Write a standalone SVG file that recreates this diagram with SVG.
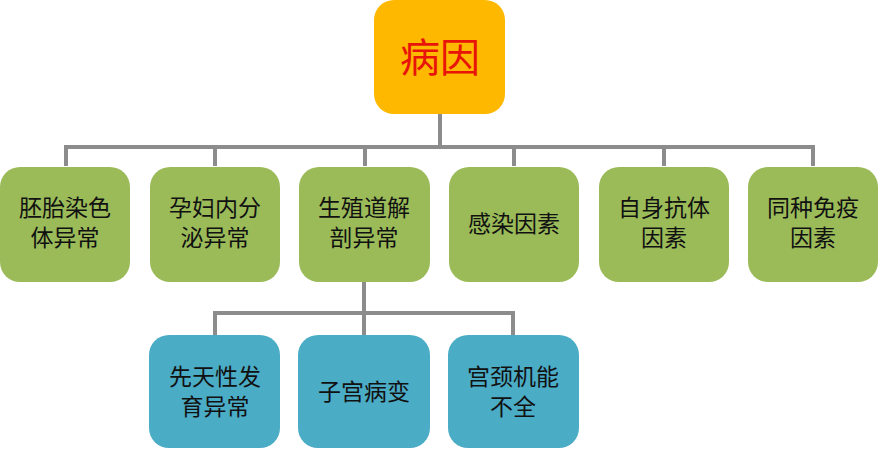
<svg xmlns="http://www.w3.org/2000/svg" width="879" height="450" viewBox="0 0 879 450">
<style>
.c{fill:none;stroke:#8c8c8c;stroke-width:4}
.g{fill:#9bbb59}
.b{fill:#4bacc6}
.t{font-family:"Noto Sans CJK SC","Noto Sans",sans-serif;font-size:23px;fill:#111;text-anchor:middle}
.top{font-family:"Noto Sans CJK SC","Noto Sans",sans-serif;font-size:40px;fill:#e8140a;text-anchor:middle}
</style>
<rect width="879" height="450" fill="#fff"/>
<g id="connectors">
<path class="c" d="M440 113V147M66 166V147H813V166M215 147V166M365 147V166M514 147V166M664 147V166"/>
<path class="c" d="M364 281V313M215 335V313H513V335M364 313V335"/>
</g>
<g id="root"><rect x="374" y="0" width="131" height="114" rx="20" fill="#ffb800"/><text class="top" x="440" y="72">病因</text></g>
<g id="n1"><rect class="g" x="0" y="167" width="130" height="115" rx="20"/><text class="t" x="65" y="216">胚胎染色<tspan x="65" dy="30">体异常</tspan></text></g>
<g id="n2"><rect class="g" x="150" y="167" width="130" height="115" rx="20"/><text class="t" x="215" y="216">孕妇内分<tspan x="215" dy="30">泌异常</tspan></text></g>
<g id="n3"><rect class="g" x="299" y="167" width="131" height="115" rx="20"/><text class="t" x="364" y="216">生殖道解<tspan x="364" dy="30">剖异常</tspan></text></g>
<g id="n4"><rect class="g" x="449" y="167" width="130" height="115" rx="20"/><text class="t" x="514" y="232">感染因素</text></g>
<g id="n5"><rect class="g" x="599" y="167" width="130" height="115" rx="20"/><text class="t" x="664" y="216">自身抗体<tspan x="664" dy="30">因素</tspan></text></g>
<g id="n6"><rect class="g" x="748" y="167" width="130" height="115" rx="20"/><text class="t" x="813" y="216">同种免疫<tspan x="813" dy="30">因素</tspan></text></g>
<g id="m1"><rect class="b" x="149" y="335" width="131" height="113" rx="20"/><text class="t" x="215" y="385">先天性发<tspan x="215" dy="30">育异常</tspan></text></g>
<g id="m2"><rect class="b" x="298" y="335" width="132" height="113" rx="20"/><text class="t" x="364" y="400">子宫病变</text></g>
<g id="m3"><rect class="b" x="448" y="335" width="131" height="113" rx="20"/><text class="t" x="513" y="385">宫颈机能<tspan x="513" dy="30">不全</tspan></text></g>
</svg>
